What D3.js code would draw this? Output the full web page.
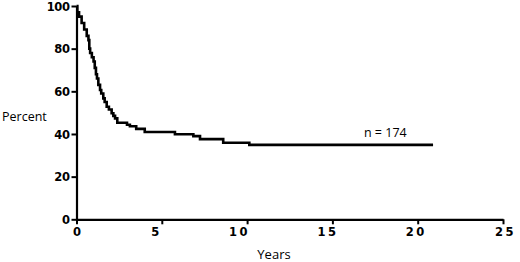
<!DOCTYPE html>
<html>
<head>
<meta charset="utf-8">
<script src="https://cdn.jsdelivr.net/npm/d3@7"></script>
<style>
  html, body { margin: 0; padding: 0; background: #fff; }
  svg { display: block; }
</style>
</head>
<body>
<svg id="chart" width="520" height="262"></svg>
<script>
// Kaplan–Meier style survival data (years, percent)
const times = [0, 0.05, 0.15, 0.3, 0.45, 0.6, 0.7, 0.75, 0.8, 0.9, 1.0, 1.07, 1.14, 1.2, 1.28, 1.38, 1.45, 1.57, 1.65, 1.77, 1.9, 2.06, 2.16, 2.26, 2.39, 2.96, 3.13, 3.5, 4.0, 5.77, 6.85, 7.24, 8.6, 10.13, 20.9];
const percent = [100, 97, 95, 92, 89, 86, 84, 80, 78, 76, 74, 71, 68, 66, 63, 60.6, 59, 56.7, 55, 52.8, 51.5, 49.7, 48.5, 47.3, 45.3, 44.3, 43.6, 42.4, 40.9, 39.9, 39.0, 37.6, 35.9, 34.9, 34.9];
const xTicks = [0, 5, 10, 15, 20, 25];
const yTicks = [0, 20, 40, 60, 80, 100];
const annotation = { text: "n = 174", t: 16.85, p: 38.4 };

const svg = d3.select("#chart");
const x = d3.scaleLinear().domain([0, 25]).range([76.5, 503]);
const y = d3.scaleLinear().domain([0, 100]).range([219.3, 6]);

const tickFont = "DejaVu Sans, Verdana, sans-serif";

// Y axis
const yAxis = d3.axisLeft(y).tickValues(yTicks).tickSize(5).tickPadding(2).tickSizeOuter(0);
const gy = svg.append("g").attr("transform", `translate(${x(0)},0)`).call(yAxis);
gy.select(".domain").attr("stroke", "#000").attr("stroke-width", 2.2);
gy.selectAll(".tick line").attr("stroke", "#000").attr("stroke-width", 2);
gy.selectAll(".tick text")
  .attr("font-family", tickFont)
  .attr("font-weight", "bold").attr("font-size", 11.5).attr("fill", "#000")
  .attr("letter-spacing", "-0.4px")
  .attr("dy", "0.36em");

// X axis
const xLabelShift = [0, -7, -8, -5, -2, 2];
const xAxis = d3.axisBottom(x).tickValues(xTicks).tickSize(5).tickPadding(4).tickSizeOuter(0);
const gx = svg.append("g").attr("transform", `translate(0,${y(0)})`).call(xAxis);
gx.select(".domain").attr("stroke", "#000").attr("stroke-width", 2.2);
gx.selectAll(".tick line").attr("stroke", "#000").attr("stroke-width", 2);
gx.selectAll(".tick text")
  .attr("font-family", tickFont)
  .attr("font-weight", "bold").attr("font-size", 11.5).attr("fill", "#000")
  .attr("letter-spacing", d => d >= 10 ? "2.5px" : "0px")
  .attr("dx", (d, i) => xLabelShift[i] + "px");

// Curve
const pts = times.map((t, i) => [t, percent[i]]);
const line = d3.line().x(d => x(d[0])).y(d => y(d[1])).curve(d3.curveStepAfter);
svg.append("path").datum(pts)
  .attr("d", line)
  .attr("fill", "none").attr("stroke", "#000").attr("stroke-width", 2.6)
  .attr("stroke-linejoin", "miter");

// Axis titles
svg.append("text").attr("x", 2).attr("y", 121)
  .attr("font-family", "Open Sans, sans-serif").attr("font-size", 12.5)
  .attr("fill", "#000").text("Percent");
svg.append("text").attr("x", 274).attr("y", 259).attr("text-anchor", "middle")
  .attr("font-family", "Open Sans, sans-serif").attr("font-size", 13)
  .attr("fill", "#000").text("Years");

// Annotation
svg.append("text").attr("x", x(annotation.t)).attr("y", y(annotation.p))
  .attr("font-family", "Open Sans, sans-serif").attr("font-size", 12.5)
  .attr("fill", "#000").text(annotation.text);
</script>
</body>
</html>
